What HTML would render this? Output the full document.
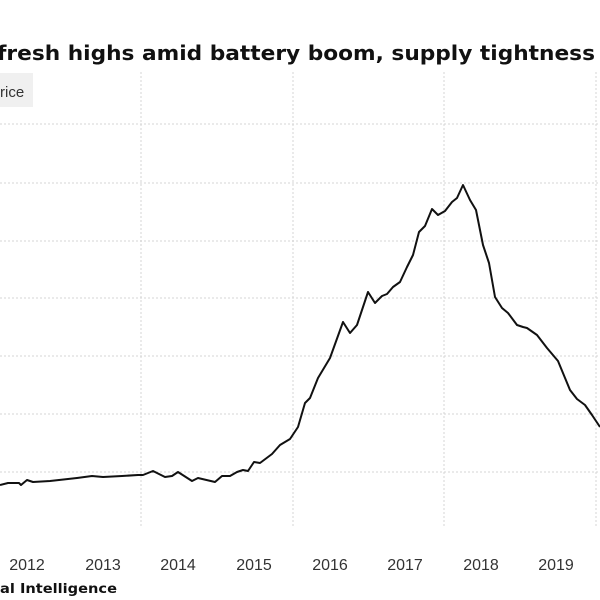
<!DOCTYPE html>
<html><head><style>html,body{margin:0;padding:0;background:#fff;}svg{display:block}</style></head>
<body>
<svg width="600" height="600" xmlns="http://www.w3.org/2000/svg">
<text x="-3" y="60" font-family="DejaVu Sans, sans-serif" font-weight="bold" font-size="20" fill="#111" textLength="598" lengthAdjust="spacingAndGlyphs">fresh highs amid battery boom, supply tightness</text>
<rect x="-5" y="73" width="38" height="34" fill="#f0f0f0"/>
<text x="0" y="97" font-family="Liberation Sans, sans-serif" font-size="15" fill="#333">rice</text>
<g stroke="#d4d4d4" stroke-width="1" stroke-dasharray="2,2">
<line x1="0" y1="124" x2="600" y2="124"/>
<line x1="0" y1="183" x2="600" y2="183"/>
<line x1="0" y1="241" x2="600" y2="241"/>
<line x1="0" y1="298" x2="600" y2="298"/>
<line x1="0" y1="356" x2="600" y2="356"/>
<line x1="0" y1="414" x2="600" y2="414"/>
<line x1="0" y1="472" x2="600" y2="472"/>
<line x1="141" y1="72" x2="141" y2="527"/>
<line x1="293" y1="72" x2="293" y2="527"/>
<line x1="444" y1="72" x2="444" y2="527"/>
<line x1="596" y1="72" x2="596" y2="527"/>
</g>
<polyline fill="none" stroke="#111" stroke-width="2" stroke-linejoin="round" points="0,485 8,483 19,483 21,485 27,480 33,482 50,481 77,478 92,476 103,477 122,476 138,475 143,475 153,471 165,477 172,476 178,472 192,481 198,478 215,482 222,476 230,476 237,472 243,470 248,471 254,462 260,463 272,454 280,445 290,439 298,427 305,403 310,398 318,378 330,358 343,322 350,333 357,325 368,292 375,303 382,296 387,294 393,287 400,282 407,267 413,255 419,232 425,226 432,209 438,215 445,211 452,202 457,198 463,185 470,200 476,210 483,245 489,263 495,297 502,308 508,313 517,325 523,327 527,328 537,335 547,348 558,361 570,390 577,399 585,405 592,415 600,427"/>
<g font-family="Liberation Sans, sans-serif" font-size="16" fill="#333" text-anchor="middle">
<text x="27" y="570">2012</text>
<text x="103" y="570">2013</text>
<text x="178" y="570">2014</text>
<text x="254" y="570">2015</text>
<text x="330" y="570">2016</text>
<text x="405" y="570">2017</text>
<text x="481" y="570">2018</text>
<text x="556" y="570">2019</text>
</g>
<text x="0" y="593" font-family="DejaVu Sans, sans-serif" font-weight="bold" font-size="13" fill="#111" textLength="117" lengthAdjust="spacingAndGlyphs">al Intelligence</text>
</svg>
</body></html>
